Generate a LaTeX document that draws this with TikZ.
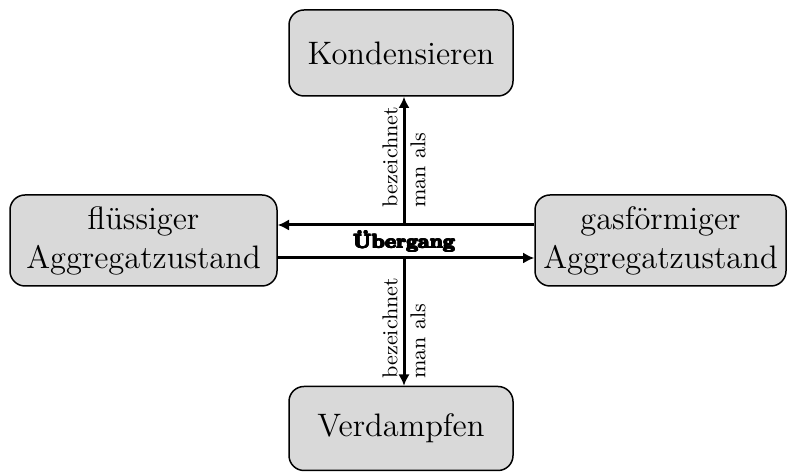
\documentclass[tikz,border=0pt]{standalone}
\usetikzlibrary{arrows.meta}
\begin{document}
\begin{tikzpicture}[x=1pt,y=1pt,
  box/.style={draw=black, line width=0.6pt, fill=gray!30, rounded corners=6pt,
    align=center, inner sep=0pt, font=\fontsize{13}{15.6}\selectfont},
  conn/.style={line width=1.2pt, -{Latex[length=4.5pt,width=4.5pt]}},
  lbl/.style={rotate=90, anchor=west, align=left, inner sep=0pt,
    font=\fontsize{8.6}{11.2}\selectfont}]
\useasboundingbox (0,0) rectangle (315.6,-188.8);
\node[box, minimum width=89.6pt, minimum height=34.4pt] (K) at (160.4,-21.2) {Kondensieren};
\node[box, minimum width=89.6pt, minimum height=33.6pt] (V) at (160.4,-171.4) {Verdampfen};
\node[box, minimum width=106.8pt, minimum height=36.4pt] (F) at (57.4,-96.2) {flüssiger\\Aggregatzustand};
\node[box, minimum width=100.4pt, minimum height=36.4pt] (G) at (264.2,-96.2) {gasförmiger\\Aggregatzustand};
\coordinate (yt) at (161.6,-90);
\coordinate (yb) at (161.6,-103.2);
\draw[conn] (G.west |- yt) -- (F.east |- yt);
\draw[conn] (F.east |- yb) -- (G.west |- yb);
\draw[conn] (yt) -- (K.south -| yt);
\draw[conn] (yb) -- (V.north -| yb);
\node[lbl] (L1) at (161.6,-83.2) {bezeichnet\\man als};
\node[lbl] (L2) at (161.6,-151.6) {bezeichnet\\man als};
\foreach \dx/\dy in {-0.35/0,0.35/0,0/0.35,0/-0.35,-0.25/0.25,0.25/0.25,-0.25/-0.25,0.25/-0.25,0/0}
  \node[inner sep=0pt, font=\fontsize{7.8}{9}\bfseries] at (161.6+\dx,-96.6+\dy) {Übergang};
\end{tikzpicture}
\end{document}
